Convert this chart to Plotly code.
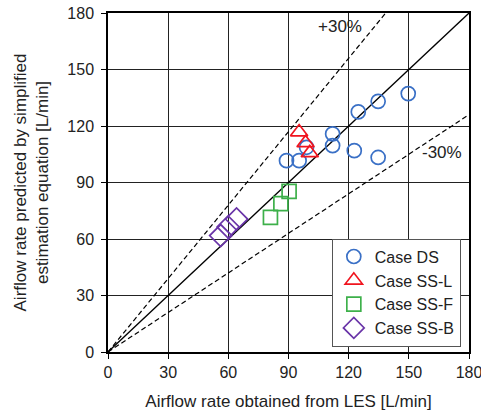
import plotly.graph_objects as go

# Data
ds_x = [89.0, 95.3, 99.0, 112.0, 112.0, 122.8, 124.8, 134.7, 134.7, 149.7]
ds_y = [101.6, 101.6, 108.7, 115.8, 109.6, 106.9, 127.5, 133.1, 103.3, 137.2]
ssl_x = [95.3, 98.5, 100.6]
ssl_y = [116.8, 111.0, 105.7]
ssf_x = [81.0, 86.2, 90.3]
ssf_y = [71.5, 78.8, 85.3]
ssb_x = [56.2, 59.9, 64.1]
ssb_y = [61.8, 66.4, 70.6]

line_x = [0, 180]
ratios = {"+30%": 1.3, "1:1": 1.0, "-30%": 0.7}
ticks = [0, 30, 60, 90, 120, 150, 180]

fig = go.Figure()

for name, r in ratios.items():
    fig.add_trace(go.Scatter(
        x=line_x, y=[v * r for v in line_x], mode="lines",
        line=dict(color="black", width=1.3 if r == 1.0 else 1.2,
                  dash="solid" if r == 1.0 else "5px,3px"),
        showlegend=False, hoverinfo="skip"))

mk_line = 1.7
fig.add_trace(go.Scatter(x=ds_x, y=ds_y, mode="markers", name="Case DS",
    marker=dict(symbol="circle-open", size=14, color="#3A70C6", line=dict(width=mk_line))))
fig.add_trace(go.Scatter(x=ssl_x, y=ssl_y, mode="markers", name="Case SS-L",
    marker=dict(symbol="triangle-up-open", size=15, color="#F0141E", line=dict(width=mk_line))))
fig.add_trace(go.Scatter(x=ssf_x, y=ssf_y, mode="markers", name="Case SS-F",
    marker=dict(symbol="square-open", size=14, color="#3DB04A", line=dict(width=mk_line))))
fig.add_trace(go.Scatter(x=ssb_x, y=ssb_y, mode="markers", name="Case SS-B",
    marker=dict(symbol="diamond-open", size=17, color="#6A35A8", line=dict(width=mk_line))))

fig.add_annotation(x=115.6, y=172.9, text="+30%", showarrow=False,
                   font=dict(size=17, color="#222"))
fig.add_annotation(x=166.4, y=105.7, text="-30%", showarrow=False,
                   font=dict(size=17, color="#222"))

axis_common = dict(
    range=[0, 180], tickvals=ticks, showgrid=True, gridcolor="#222", gridwidth=1,
    showline=True, linecolor="black", linewidth=1.5, mirror=True,
    ticks="outside", ticklen=5, tickcolor="black", zeroline=False,
    tickfont=dict(size=16, color="#222"), automargin=False,
    ticklabeloverflow="allow",
)

fig.update_layout(
    width=481, height=412,
    margin=dict(l=108, r=12, t=13, b=60),
    paper_bgcolor="white", plot_bgcolor="white",
    font=dict(family="Liberation Sans, Arial, sans-serif", color="#222"),
    xaxis=dict(**axis_common, ticklabelstandoff=0,
               title=dict(text="Airflow rate obtained from LES [L/min]",
                          font=dict(size=17), standoff=15)),
    yaxis=dict(**axis_common, ticklabelstandoff=4,
               title=dict(text="Airflow rate predicted by simplified<br>estimation equation [L/min]",
                          font=dict(size=17), standoff=14)),
    legend=dict(x=0.62, y=0.016, xanchor="left", yanchor="bottom",
                bgcolor="white", bordercolor="#555", borderwidth=1,
                font=dict(size=16, color="#222"), itemwidth=32,
                tracegroupgap=0),
    showlegend=True,
)

fig.write_html("out.html")
